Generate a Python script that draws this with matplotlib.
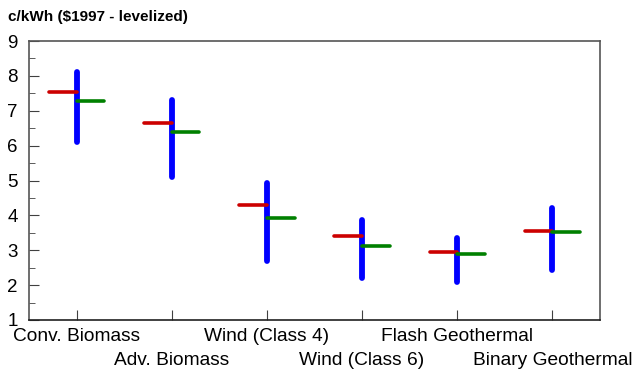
import matplotlib
matplotlib.use("Agg")
import matplotlib.pyplot as plt
from matplotlib.ticker import MultipleLocator

plt.rcParams['font.family'] = ['Liberation Sans', 'DejaVu Sans']

categories = ["Conv. Biomass", "Adv. Biomass", "Wind (Class 4)", "Wind (Class 6)",
              "Flash Geothermal", "Binary Geothermal"]
range_high = [8.12, 7.32, 4.92, 3.87, 3.36, 4.2]
range_low = [6.1, 5.1, 2.68, 2.2, 2.1, 2.43]
red_values = [7.55, 6.66, 4.30, 3.42, 2.95, 3.56]
green_values = [7.29, 6.39, 3.92, 3.13, 2.88, 3.53]

fig = plt.figure(figsize=(6.33, 3.73), dpi=100)
ax = fig.add_axes([29/633, 1 - 320/373, 571/633, 279/373])

x = list(range(len(categories)))
hw = 0.29
ax.vlines(x, range_low, range_high, color='#0000ff', lw=4.2, capstyle='round', zorder=2)
for i in x:
    ax.plot([i - hw, i], [red_values[i]] * 2, color='#cc0000', lw=2.6, solid_capstyle='round', zorder=3)
    ax.plot([i, i + hw], [green_values[i]] * 2, color='#008000', lw=2.6, solid_capstyle='round', zorder=3)

ax.set_xlim(-0.5, 5.5)
ax.set_ylim(1, 9)
ax.yaxis.set_major_locator(MultipleLocator(1))
ax.yaxis.set_minor_locator(MultipleLocator(0.5))
ax.set_xticks(x)
ax.set_xticklabels(["" for _ in x])
for i, c in enumerate(categories):
    ax.text(i, -0.06 if i % 2 == 0 else -0.145, c, transform=ax.get_xaxis_transform(),
            ha='center', va='center', fontsize=13.8)

ax.tick_params(axis='both', direction='in', colors='#404040', labelcolor='black')
ax.tick_params(axis='y', which='major', length=7, labelsize=13.5, pad=8)
ax.tick_params(axis='y', which='minor', length=4, direction='in', colors='#404040')
ax.tick_params(axis='x', length=7)
for s in ax.spines.values():
    s.set_color('#555555')
    s.set_linewidth(1.2)
ax.spines['bottom'].set_color('#202020')

fig.text(8/633, 1 - 17/373, "c/kWh ($1997 - levelized)", fontsize=11, fontweight='bold',
         ha='left', va='center')

fig.savefig("out.png", dpi=100)
